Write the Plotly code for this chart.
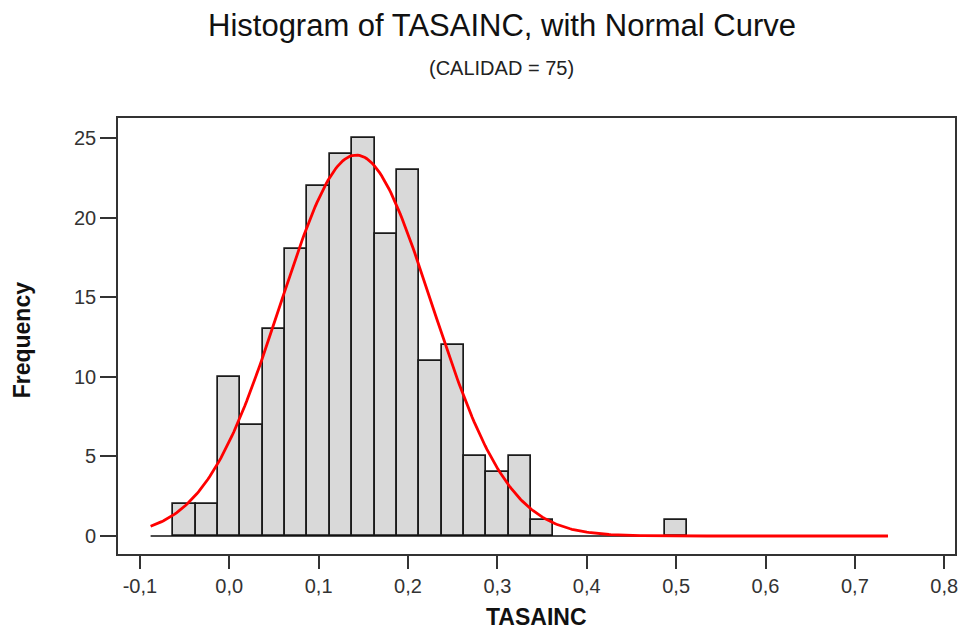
import numpy as np
import plotly.graph_objects as go

# Histogram data
bin_centers = [-0.05, -0.025, 0.0, 0.025, 0.05, 0.075, 0.1, 0.125, 0.15, 0.175,
               0.2, 0.225, 0.25, 0.275, 0.3, 0.325, 0.35, 0.5]
counts = [2, 2, 10, 7, 13, 18, 22, 24, 25, 19, 23, 11, 12, 5, 4, 5, 1, 1]
bin_width = 0.025

# Normal-curve fit parameters
fit_mean = 0.142
fit_sd = 0.085
data_min = -0.088
data_max = 0.737

x_tickvals = [-0.1, 0.0, 0.1, 0.2, 0.3, 0.4, 0.5, 0.6, 0.7, 0.8]
x_ticktext = ["-0,1", "0,0", "0,1", "0,2", "0,3", "0,4", "0,5", "0,6", "0,7", "0,8"]
y_tickvals = [0, 5, 10, 15, 20, 25]

n_total = sum(counts)
curve_x = np.linspace(data_min, data_max, 400)
curve_y = n_total * bin_width / (fit_sd * np.sqrt(2 * np.pi)) * np.exp(-0.5 * ((curve_x - fit_mean) / fit_sd) ** 2)

FONT = "Liberation Sans, Arial, sans-serif"

fig = go.Figure()
fig.add_trace(go.Scatter(x=[data_min, data_max], y=[0, 0], mode="lines",
                         line=dict(color="#111111", width=1.5), hoverinfo="skip"))
fig.add_trace(go.Bar(x=bin_centers, y=counts, width=bin_width,
                     marker=dict(color="#d9d9d9", line=dict(color="#1a1a1a", width=1.7))))
fig.add_trace(go.Scatter(x=curve_x, y=curve_y, mode="lines",
                         line=dict(color="#ff0000", width=2.8), hoverinfo="skip"))

fig.update_layout(
    width=963, height=632,
    margin=dict(l=118, r=5, t=118, b=78),
    paper_bgcolor="white", plot_bgcolor="white",
    showlegend=False,
    bargap=0,
    font=dict(family=FONT, color="#222222", size=18),
    xaxis=dict(range=[-0.1245, 0.812], tickvals=x_tickvals, ticktext=x_ticktext,
               showgrid=False, zeroline=False, showline=True, linecolor="#333333",
               linewidth=1.6, mirror=True, ticks="outside", ticklen=13, tickwidth=1.6,
               tickcolor="#333333", tickfont=dict(size=20, color="#333333")),
    yaxis=dict(range=[-1.13, 26.26], tickvals=y_tickvals,
               showgrid=False, zeroline=False, showline=True, linecolor="#333333",
               linewidth=1.6, mirror=True, ticks="outside", ticklen=16, tickwidth=1.6,
               tickcolor="#333333", tickfont=dict(size=20, color="#333333")),
    annotations=[
        dict(text="Histogram of TASAINC, with Normal Curve", xref="paper", yref="paper",
             x=(503 - 118) / 840, y=(554 - 25) / 436, xanchor="center", yanchor="middle",
             showarrow=False, font=dict(size=31, color="#111111", family=FONT)),
        dict(text="(CALIDAD = 75)", xref="paper", yref="paper",
             x=(503 - 118) / 840, y=(554 - 68) / 436, xanchor="center", yanchor="middle",
             showarrow=False, font=dict(size=20, color="#222222", family=FONT)),
        dict(text="<b>TASAINC</b>", xref="paper", yref="paper",
             x=0.5, y=(554 - 617) / 436, xanchor="center", yanchor="middle",
             showarrow=False, font=dict(size=23, color="#111111", family=FONT)),
        dict(text="<b>Frequency</b>", xref="paper", yref="paper",
             x=(22 - 118) / 840, y=(554 - 340) / 436, xanchor="center", yanchor="middle",
             textangle=-90, showarrow=False, font=dict(size=23, color="#111111", family=FONT)),
    ],
)

fig.write_html("out.html")
